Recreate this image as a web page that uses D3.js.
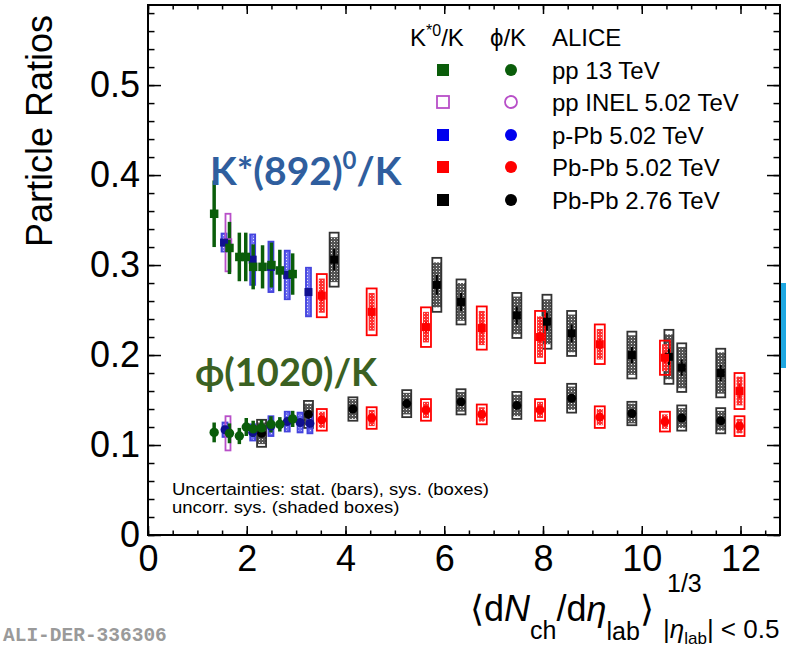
<!DOCTYPE html>
<html><head><meta charset="utf-8">
<script src="https://cdn.jsdelivr.net/npm/d3@7"></script>
<style>body{margin:0;background:#fff}</style>
</head><body>
<svg id="c" width="786" height="647" xmlns="http://www.w3.org/2000/svg"></svg>
<script>
// ---------- data: rows are [x, ratio, stat, sysTotal, sysUncorr] ----------
const kstarPP13 = [[1.34,0.357,0.037],[1.65,0.319,0.029],[1.85,0.309,0.027],[1.98,0.309,0.027],[2.13,0.298,0.025],[2.32,0.298,0.024],[2.50,0.300,0.025],[2.67,0.294,0.023],[2.93,0.290,0.023]];
const phiPP13   = [[1.34,0.114,0.011],[1.65,0.113,0.011],[1.85,0.110,0.009],[1.99,0.120,0.010],[2.13,0.118,0.009],[2.30,0.119,0.009],[2.49,0.123,0.009],[2.67,0.123,0.008],[2.93,0.129,0.009]];
const kstarPPInel = [[1.62,0.325,0.003,0.032]];
const phiPPInel   = [[1.62,0.113,0.003,0.019]];
const kstarPPb = [[1.54,0.325,0.004,0.010],[2.12,0.306,0.004,0.028],[2.49,0.298,0.004,0.028],[2.82,0.289,0.004,0.027],[3.25,0.270,0.004,0.027]];
const phiPPb   = [[1.56,0.117,0.003,0.008],[2.12,0.114,0.003,0.009],[2.49,0.121,0.003,0.011],[2.82,0.126,0.003,0.011],[3.08,0.125,0.003,0.011],[3.28,0.124,0.003,0.011]];
const kstarPbPb502 = [[3.52,0.266,0.006,0.024,0.019],[4.53,0.248,0.006,0.026,0.021],[5.63,0.231,0.006,0.022,0.017],[6.76,0.230,0.006,0.024,0.019],[7.94,0.220,0.006,0.029,0.023],[9.15,0.212,0.006,0.022,0.017],[10.47,0.197,0.006,0.019,0.015],[11.98,0.160,0.008,0.020,0.016]];
const phiPbPb502   = [[3.52,0.128,0.003,0.012,0.009],[4.53,0.130,0.003,0.012,0.009],[5.63,0.139,0.003,0.012,0.009],[6.76,0.134,0.003,0.011,0.008],[7.94,0.139,0.003,0.012,0.009],[9.15,0.131,0.003,0.012,0.009],[10.47,0.126,0.003,0.011,0.008],[11.98,0.121,0.003,0.011,0.008]];
const kstarPbPb276 = [[3.77,0.306,0.012,0.030,0.025],[5.85,0.278,0.011,0.030,0.025],[6.34,0.259,0.010,0.025,0.021],[7.47,0.244,0.010,0.025,0.021],[8.08,0.237,0.010,0.030,0.025],[8.58,0.224,0.010,0.025,0.021],[9.80,0.200,0.009,0.026,0.022],[10.55,0.198,0.009,0.030,0.025],[10.81,0.186,0.009,0.027,0.023],[11.60,0.180,0.009,0.027,0.023]];
const phiPbPb276   = [[2.30,0.113,0.004,0.015,0.012],[3.25,0.134,0.004,0.015,0.012],[4.15,0.140,0.004,0.013,0.011],[5.24,0.146,0.004,0.015,0.012],[6.34,0.148,0.004,0.014,0.011],[7.47,0.144,0.004,0.015,0.012],[8.58,0.152,0.004,0.016,0.013],[9.80,0.135,0.004,0.013,0.011],[10.81,0.130,0.004,0.014,0.011],[11.60,0.127,0.004,0.014,0.011]];

const legendLabels = ["pp 13 TeV","pp INEL 5.02 TeV","p-Pb 5.02 TeV","Pb-Pb 5.02 TeV","Pb-Pb 2.76 TeV"];
const xTicks = [0,2,4,6,8,10,12];
const yTicks = [0,0.1,0.2,0.3,0.4,0.5];
const xDomain = [0,12.8];
const yDomain = [0,0.589];

// ---------- layout ----------
const L=148,R=780,T=5,B=535;
const svg=d3.select("#c");
const x=d3.scaleLinear().domain(xDomain).range([L,R]);
const y=d3.scaleLinear().domain(yDomain).range([B,T]);
const FONT="'Liberation Sans', Arial, Helvetica, sans-serif";

// patterns
const defs=svg.append("defs");
function pat(id,bg,dot){
  const p=defs.append("pattern").attr("id",id).attr("width",3).attr("height",3).attr("patternUnits","userSpaceOnUse");
  p.append("rect").attr("width",3).attr("height",3).attr("fill",bg);
  p.append("rect").attr("x",1).attr("y",1).attr("width",1).attr("height",1).attr("fill",dot);
}
pat("shBlack","#555","#eee");
pat("shRed","#ff3030","#ffd0d0");
pat("shBlue","#5555ee","#dde");

// axes (ticks inward on all sides)
function axes(){
  const g=svg.append("g");
  const xMinor=d3.range(0,12.81,0.5), yMinor=d3.range(0,0.5891,0.02);
  const ax=(gen,tr)=>g.append("g").attr("transform",tr).call(gen).call(s=>s.select(".domain").remove());
  ax(d3.axisBottom(x).tickValues(xMinor).tickSizeInner(-4.5).tickSizeOuter(0).tickFormat(""),`translate(0,${B})`);
  ax(d3.axisTop(x).tickValues(xMinor).tickSizeInner(-4.5).tickSizeOuter(0).tickFormat(""),`translate(0,${T})`);
  ax(d3.axisLeft(y).tickValues(yMinor).tickSizeInner(-6.5).tickSizeOuter(0).tickFormat(""),`translate(${L},0)`);
  ax(d3.axisRight(y).tickValues(yMinor).tickSizeInner(-6.5).tickSizeOuter(0).tickFormat(""),`translate(${R},0)`);
  ax(d3.axisBottom(x).tickValues(xTicks).tickSizeInner(-9).tickSizeOuter(0).tickPadding(10).tickFormat(d3.format("d")),`translate(0,${B})`);
  ax(d3.axisTop(x).tickValues(xTicks).tickSizeInner(-9).tickSizeOuter(0).tickFormat(""),`translate(0,${T})`);
  ax(d3.axisLeft(y).tickValues(yTicks).tickSizeInner(-13).tickSizeOuter(0).tickPadding(8).tickFormat(d=>d===0?"0":d3.format(".1f")(d)),`translate(${L},0)`);
  ax(d3.axisRight(y).tickValues(yTicks).tickSizeInner(-13).tickSizeOuter(0).tickFormat(""),`translate(${R},0)`);
  g.selectAll(".tick line").attr("stroke","#000").attr("stroke-width",1.5);
  g.selectAll("text").attr("font-family",FONT).attr("font-size",36).attr("fill","#000");
  svg.append("rect").attr("x",L).attr("y",T).attr("width",R-L).attr("height",B-T).attr("fill","none").attr("stroke","#000").attr("stroke-width",2);
}

const gBox=svg.append("g"), gBar=svg.append("g"), gMk=svg.append("g");

function sysBoxes(data,w,stroke,shade,innerInset){
  data.forEach(d=>{
    if(d[4]!==undefined && shade){
      gBox.append("rect").attr("x",x(d[0])-w/2+innerInset).attr("width",w-2*innerInset)
        .attr("y",y(d[1]+d[4])).attr("height",y(d[1]-d[4])-y(d[1]+d[4])).attr("fill",`url(#${shade})`);
    }
    if(d[3]!==undefined){
      const r=gBox.append("rect").attr("x",x(d[0])-w/2).attr("width",w)
        .attr("y",y(d[1]+d[3])).attr("height",y(d[1]-d[3])-y(d[1]+d[3]));
      if(d[4]===undefined && shade){ r.attr("fill",`url(#${shade})`).attr("fill-opacity",0.85); }
      else r.attr("fill","none");
      r.attr("stroke",stroke).attr("stroke-width",1.8);
    }
  });
}
function statBars(data,color,width){
  gBar.selectAll(null).data(data).enter().append("line")
    .attr("x1",d=>x(d[0])).attr("x2",d=>x(d[0]))
    .attr("y1",d=>y(d[1]+d[2])).attr("y2",d=>y(d[1]-d[2]))
    .attr("stroke",color).attr("stroke-width",width);
}
function squares(data,color,s,open){
  gMk.selectAll(null).data(data).enter().append("rect")
    .attr("x",d=>x(d[0])-s/2).attr("y",d=>y(d[1])-s/2).attr("width",s).attr("height",s)
    .attr("fill",open?"none":color).attr("stroke",open?color:"none").attr("stroke-width",1.5);
}
function circles(data,color,r,open){
  gMk.selectAll(null).data(data).enter().append("circle")
    .attr("cx",d=>x(d[0])).attr("cy",d=>y(d[1])).attr("r",r)
    .attr("fill",open?"none":color).attr("stroke",open?color:"none").attr("stroke-width",1.5);
}

const GREEN="#0a5d0a", MAG="#b84fc8", BLUE="#0000ee", BLUEDK="#101090", RED="#ff0000", BLK="#000";

// boxes
sysBoxes(kstarPbPb276,9,"#333","shBlack",0);
sysBoxes(phiPbPb276,9,"#333","shBlack",0);
sysBoxes(kstarPbPb502,10,RED,"shRed",2);
sysBoxes(phiPbPb502,10,RED,"shRed",2);
sysBoxes(kstarPPb,5,"#4444dd","shBlue",0);
sysBoxes(phiPPb,5,"#4444dd","shBlue",0);
sysBoxes(kstarPPInel,5,MAG,null,0);
sysBoxes(phiPPInel,5,MAG,null,0);
// stat bars
statBars(kstarPbPb276,BLK,2); statBars(phiPbPb276,BLK,2);
statBars(kstarPbPb502,RED,2); statBars(phiPbPb502,RED,2);
statBars(kstarPPb,BLUEDK,2); statBars(phiPPb,BLUEDK,2);
statBars(kstarPP13,GREEN,3.5); statBars(phiPP13,GREEN,3.5);
// markers
squares(kstarPbPb276,BLK,8); circles(phiPbPb276,BLK,4.5);
squares(kstarPbPb502,RED,8); circles(phiPbPb502,RED,4.5);
squares(kstarPPInel,MAG,7,true); circles(phiPPInel,MAG,3.5,true);
squares(kstarPPb,BLUEDK,8); circles(phiPPb,BLUEDK,4.5);
squares(kstarPP13,GREEN,8.5); circles(phiPP13,GREEN,4.7);

axes();

// legend
const lg=svg.append("g").attr("font-family",FONT).attr("font-size",24).attr("fill","#000");
const hk=lg.append("text").attr("x",410).attr("y",46);
hk.append("tspan").text("K");
hk.append("tspan").attr("font-size",16).attr("dy",-10).text("*0");
hk.append("tspan").attr("dy",10).text("/K");
lg.append("text").attr("x",490).attr("y",46).text("ϕ/K");
lg.append("text").attr("x",552).attr("y",46).text("ALICE");
const rowY=[70,102,135,167,200];
const legCol=[GREEN,MAG,BLUE,RED,BLK];
legendLabels.forEach((t,i)=>{
  const open=i===1;
  lg.append("rect").attr("x",443-6).attr("y",rowY[i]-6).attr("width",12).attr("height",12)
    .attr("fill",open?"none":legCol[i]).attr("stroke",open?legCol[i]:"none").attr("stroke-width",1.8);
  lg.append("circle").attr("cx",511).attr("cy",rowY[i]).attr("r",6)
    .attr("fill",open?"none":legCol[i]).attr("stroke",open?legCol[i]:"none").attr("stroke-width",1.8);
  lg.append("text").attr("x",552).attr("y",rowY[i]+8.5).text(t);
});

// annotations
const ANN="Lato, 'Open Sans', sans-serif";
const ka=svg.append("text").attr("x",210).attr("y",185).attr("font-family",ANN).attr("font-weight",700).attr("font-size",39).attr("fill","#2f5e9e");
ka.append("tspan").text("K*(892)");
ka.append("tspan").attr("font-size",24).attr("dy",-16).text("0");
ka.append("tspan").attr("dy",16).text("/K");
svg.append("text").attr("x",195).attr("y",386).attr("font-family",ANN).attr("font-weight",700).attr("font-size",38).attr("fill","#3b6122").text("ϕ(1020)/K");

// uncertainty note
const note=svg.append("g").attr("font-family",FONT).attr("font-size",17).attr("transform","translate(172,0) scale(1.09,1)");
note.append("text").attr("x",0).attr("y",495).text("Uncertainties: stat. (bars), sys. (boxes)");
note.append("text").attr("x",0).attr("y",513).text("uncorr. sys. (shaded boxes)");

// axis titles
svg.append("text").attr("transform","translate(52,131) rotate(-90)").attr("text-anchor","middle")
  .attr("font-family",FONT).attr("font-size",36).text("Particle Ratios");
const xt=svg.append("text").attr("x",470).attr("y",621).attr("font-family",FONT).attr("font-size",36);
xt.append("tspan").text("⟨d");
xt.append("tspan").attr("font-style","italic").text("N");
xt.append("tspan").attr("font-size",25).attr("dy",18).text("ch");
xt.append("tspan").attr("dy",-18).text("/d");
xt.append("tspan").attr("font-style","italic").text("η");
xt.append("tspan").attr("font-size",25).attr("dy",19).text("lab");
xt.append("tspan").attr("dy",-19).text("⟩");
svg.append("text").attr("x",667).attr("y",592).attr("font-family",FONT).attr("font-size",25).text("1/3");
const sb=svg.append("text").attr("x",663).attr("y",638).attr("font-family",FONT).attr("font-size",26);
sb.append("tspan").text("|");
sb.append("tspan").attr("font-style","italic").text("η");
sb.append("tspan").attr("font-size",17).attr("dy",6).text("lab");
sb.append("tspan").attr("dy",-6).text("| < 0.5");

// watermark id
svg.append("text").attr("x",3).attr("y",641).attr("font-family","'Liberation Mono', 'DejaVu Sans Mono', monospace")
  .attr("font-weight",700).attr("font-size",19.5).attr("fill","#9a9a9a").text("ALI-DER-336306");

// side highlight bar
svg.append("rect").attr("x",781).attr("y",283).attr("width",5).attr("height",85).attr("fill","#1ea7e1");
</script>
</body></html>
